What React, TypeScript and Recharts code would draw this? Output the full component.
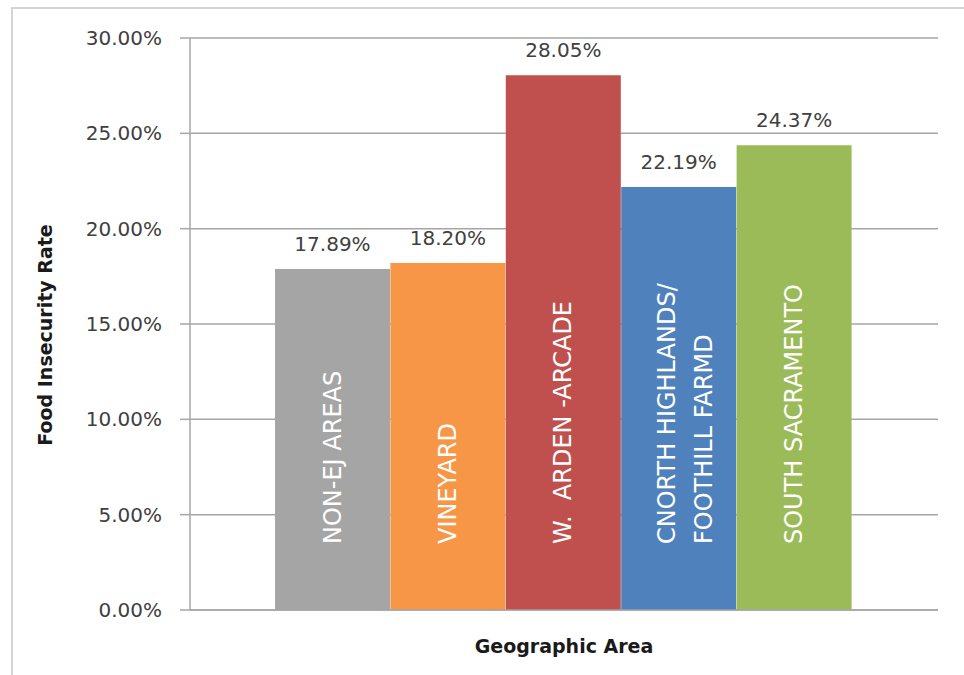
import React from 'react';
import {
  BarChart,
  Bar,
  XAxis,
  YAxis,
  CartesianGrid,
  Cell,
  LabelList,
} from 'recharts';

const categories = [
  'NON-EJ AREAS',
  'VINEYARD',
  'W.  ARDEN -ARCADE',
  'CNORTH HIGHLANDS/\nFOOTHILL FARMD',
  'SOUTH SACRAMENTO',
];
const rates = [17.89, 18.2, 28.05, 22.19, 24.37];
const barColors = ['#A5A5A5', '#F79646', '#C0504D', '#4F81BD', '#9BBB59'];
const yTicks = [0, 5, 10, 15, 20, 25, 30];

const data = categories.map((name, i) => ({ name, value: rates[i] }));

const FONT = '"DejaVu Sans", sans-serif';

// white rotated category names, sitting near the foot of each bar
function InsideLabel(props: any) {
  const x = Number(props.x);
  const y = Number(props.y);
  const width = Number(props.width);
  const height = Number(props.height);
  const lines = String(props.value).split('\n');
  const cx = x + width / 2;
  const by = y + height - 66;
  const shifts = lines.length === 1 ? [0] : [-12, 25];
  return (
    <g>
      {lines.map((line, i) => {
        const lx = cx + shifts[i];
        return (
          <text
            key={i}
            x={lx}
            y={by}
            transform={`rotate(-90 ${lx} ${by})`}
            textAnchor="start"
            dominantBaseline="central"
            fill="#ffffff"
            fontSize={24}
            style={{ whiteSpace: 'pre' }}
          >
            {line}
          </text>
        );
      })}
    </g>
  );
}

function YTitle(props: any) {
  const vb = props.viewBox || {};
  const cx = Number(vb.x) + 15;
  const cy = Number(vb.y) + Number(vb.height) / 2 + 11;
  return (
    <text
      x={cx}
      y={cy}
      transform={`rotate(-90 ${cx} ${cy})`}
      textAnchor="middle"
      dominantBaseline="central"
      fill="#1a1a1a"
      fontSize={19}
      fontWeight="bold"
    >
      Food Insecurity Rate
    </text>
  );
}

export default function App() {
  return (
    <div style={{ position: 'absolute', left: 0, top: 0, width: 964, height: 675, background: '#fff', fontFamily: FONT, overflow: 'hidden' }}>
      <div
        style={{
          position: 'absolute',
          left: 11,
          top: 7,
          width: 1000,
          height: 700,
          borderLeft: '2px solid #d4d4d4',
          borderTop: '2px solid #d4d4d4',
        }}
      />
      <div style={{ position: 'absolute', left: 0, top: 0 }}>
        <BarChart
          width={964}
          height={675}
          data={data}
          margin={{ top: 38, right: 26, left: 30, bottom: 0 }}
          barCategoryGap={0}
          barGap={0}
        >
          <CartesianGrid vertical={false} stroke="#a6a6a6" strokeWidth={1.5} />
          <XAxis
            xAxisId="cat"
            dataKey="name"
            hide
            padding={{ left: 85, right: 86 }}
          />
          <XAxis
            xAxisId={0}
            type="number"
            domain={[0, 1]}
            ticks={[0, 1]}
            tick={false}
            tickSize={10}
            height={65}
            stroke="#a6a6a6"
            strokeWidth={1.5}
            label={{
              value: 'Geographic Area',
              position: 'insideBottom',
              offset: 22,
              fill: '#1a1a1a',
              fontSize: 19,
              fontWeight: 'bold',
            }}
          />
          <YAxis
            width={160}
            domain={[0, 30]}
            ticks={yTicks}
            tickSize={10}
            tickMargin={18}
            stroke="#a6a6a6"
            strokeWidth={1.5}
            tick={{ fill: '#404040', fontSize: 20 }}
            tickFormatter={(v: number) => v.toFixed(2) + '%'}
            label={<YTitle />}
          />
          <Bar dataKey="value" xAxisId="cat" isAnimationActive={false}>
            {data.map((d, i) => (
              <Cell key={d.name} fill={barColors[i]} />
            ))}
            <LabelList
              dataKey="value"
              position="top"
              offset={18}
              fill="#404040"
              fontSize={20}
              formatter={(v: any) => Number(v).toFixed(2) + '%'}
            />
            <LabelList dataKey="name" content={<InsideLabel />} />
          </Bar>
        </BarChart>
      </div>
    </div>
  );
}
